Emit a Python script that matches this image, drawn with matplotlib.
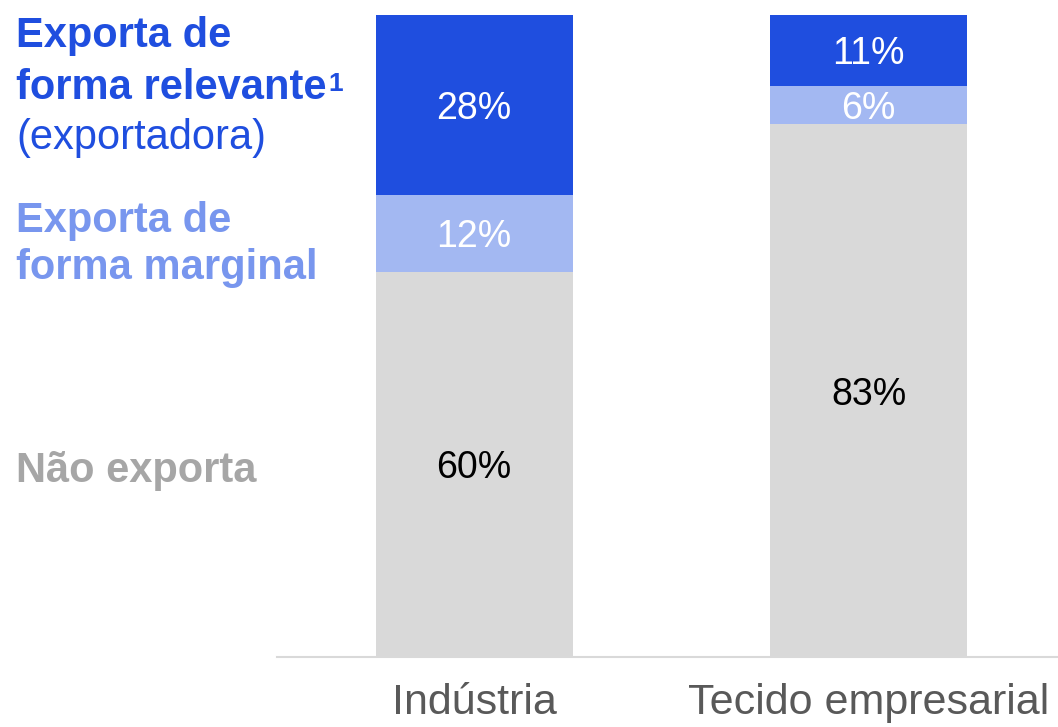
import numpy as np
import matplotlib
matplotlib.use('Agg')
import matplotlib.pyplot as plt

plt.rcParams['font.family'] = ['Liberation Sans', 'DejaVu Sans']

categories = ['Indústria', 'Tecido empresarial']
nao_exporta = [60, 83]
marginal = [12, 6]
relevante = [28, 11]

c_dark = '#1F4EDF'
c_light = '#A3B8F2'
c_gray = '#D9D9D9'
c_lbl_light = '#7896EE'
c_lbl_gray = '#A6A6A6'

fig = plt.figure(figsize=(10.58, 7.27), dpi=100)
W, H = 1058, 727
ax = fig.add_axes([277 / W, 70 / H, (1058 - 277) / W, (657 - 15) / H])

x = np.arange(len(categories))
b1 = np.array(nao_exporta)
b2 = b1 + np.array(marginal)
ax.bar(x, nao_exporta, width=0.5, color=c_gray)
ax.bar(x, marginal, width=0.5, bottom=b1, color=c_light)
ax.bar(x, relevante, width=0.5, bottom=b2, color=c_dark)

fs_pct = 27
fs_lbl = 30
for i in range(len(categories)):
    ax.text(x[i], nao_exporta[i] / 2, f'{nao_exporta[i]}%', ha='center', va='center_baseline',
            fontsize=fs_pct, color='black')
    ax.text(x[i], b1[i] + marginal[i] / 2, f'{marginal[i]}%', ha='center', va='center_baseline',
            fontsize=fs_pct, color='white')
    ax.text(x[i], b2[i] + relevante[i] / 2, f'{relevante[i]}%', ha='center', va='center_baseline',
            fontsize=fs_pct, color='white')

ax.set_xlim(-0.5, 1.48)
ax.set_ylim(0, 100)
ax.set_xticks(x)
ax.set_xticklabels(categories, fontsize=31, color='#595959')
ax.tick_params(axis='x', length=0, pad=19)
ax.set_yticks([])
for s in ['top', 'right', 'left']:
    ax.spines[s].set_visible(False)
ax.spines['bottom'].set_color(c_gray)
ax.spines['bottom'].set_linewidth(1.5)

# legend-like labels on the left
lx = 16 / W
def ftext(y_px, s, color, bold=True):
    return fig.text(lx, 1 - y_px / H, s, color=color, fontsize=fs_lbl, va='baseline', ha='left',
                    fontweight='bold' if bold else 'normal')

ftext(47, 'Exporta de', c_dark)
t = ftext(99, 'forma relevante', c_dark)
ax.annotate('1', xy=(1, 1), xycoords=t, xytext=(1, -3), textcoords='offset points',
            ha='left', va='top', fontsize=19, fontweight='bold', color=c_dark)
ftext(149, '(exportadora)', c_dark, bold=False)
ftext(232, 'Exporta de', c_lbl_light)
ftext(279, 'forma marginal', c_lbl_light)
ftext(482, 'Não exporta', c_lbl_gray)

fig.savefig('out.png', dpi=100)
